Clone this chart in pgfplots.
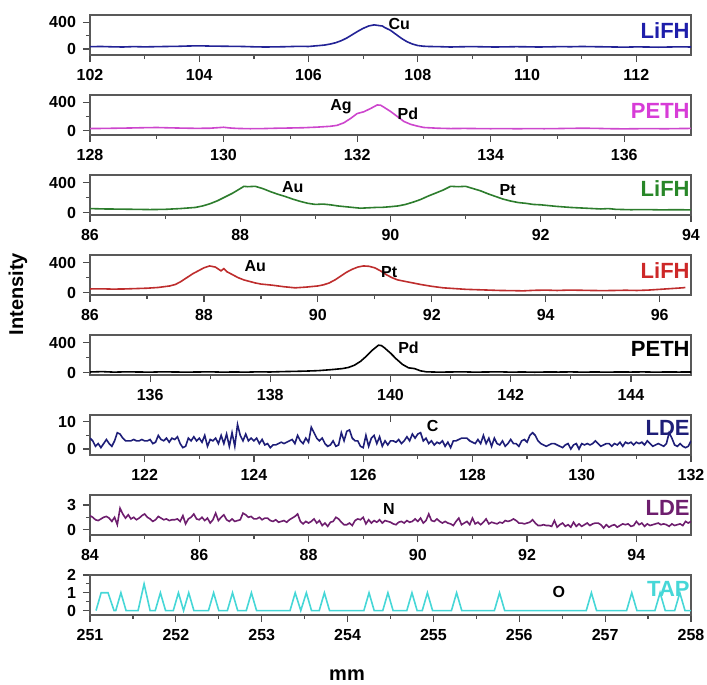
\documentclass[border=0pt]{standalone}
\usepackage{fontspec}
\setmainfont{Liberation Sans}
\usepackage{pgfplots}
\pgfplotsset{compat=1.18}

\definecolor{cBlue}{RGB}{35,35,150}
\definecolor{cMag}{RGB}{205,70,205}
\definecolor{cGreen}{RGB}{45,125,45}
\definecolor{cRed}{RGB}{190,45,45}
\definecolor{cNavy}{RGB}{30,30,120}
\definecolor{cPurple}{RGB}{110,30,110}
\definecolor{cCyan}{RGB}{70,215,215}
\definecolor{lBlue}{RGB}{30,30,170}
\definecolor{lMag}{RGB}{215,60,215}
\definecolor{lGreen}{RGB}{40,135,40}
\definecolor{lRed}{RGB}{205,40,40}

\pgfplotsset{
  panel/.style={
    scale only axis, width=300.5pt, height=20pt, anchor=north west,
    axis line style={black!65, line width=0.6pt},
    tick align=outside, xtick pos=left, ytick pos=left,
    major tick length=3.5pt, minor tick length=2pt,
    every tick/.style={black!70, line width=0.6pt},
    /pgf/number format/assume math mode=true,
    tick label style={font=\bfseries\fontsize{8}{9}\selectfont},
    minor x tick num=1,
  },
}
\tikzset{
  tag/.style={font=\bfseries\fontsize{11}{12}\selectfont, anchor=east, inner sep=0.5pt},
  elem/.style={font=\bfseries\fontsize{8}{9}\selectfont, text=black},
}

\begin{document}
\begin{tikzpicture}
\useasboundingbox (0,0) rectangle (353.5pt,-342.5pt);

% ---- Cu, LiFH
\begin{axis}[panel, at={(45pt,-7.5pt)}, xmin=102, xmax=113,
  xtick={102,104,...,112}, ymin=-90, ymax=510, ytick={0,400}, minor ytick={200}]
\addplot[cBlue, line width=0.8pt] coordinates {
(102.0,35)(102.2,38)(102.4,33)(102.6,30)(102.8,36)(103.0,32)(103.2,35)(103.4,38)
(103.6,40)(103.8,45)(104.0,48)(104.2,44)(104.4,42)(104.6,40)(104.8,38)(105.0,33)
(105.2,30)(105.4,32)(105.6,35)(105.8,40)(106.0,38)(106.1,45)(106.2,52)(106.3,60)
(106.4,75)(106.5,95)(106.6,125)(106.7,165)(106.8,215)(106.9,265)(107.0,310)(107.1,345)
(107.2,362)(107.3,350)(107.35,345)(107.4,320)(107.5,280)(107.6,220)(107.7,160)(107.8,110)
(107.9,75)(108.0,52)(108.1,42)(108.2,38)(108.4,35)(108.6,30)(108.8,34)(109.0,36)
(109.2,33)(109.4,30)(109.6,32)(109.8,35)(110.0,33)(110.2,30)(110.4,32)(110.6,36)
(110.8,34)(111.0,38)(111.2,35)(111.4,33)(111.6,30)(111.8,28)(112.0,32)(112.2,30)
(112.4,27)(112.6,30)(112.8,33)(113.0,30)};
\node[elem] at (axis cs:107.66,370) {Cu};
\node[tag, text=lBlue] at (rel axis cs:1,0.62) {LiFH};
\end{axis}

% ---- Ag Pd, PETH
\begin{axis}[panel, at={(45pt,-47.5pt)}, xmin=128, xmax=137,
  xtick={128,130,...,136}, ymin=-60, ymax=500, ytick={0,400}, minor ytick={200}]
\addplot[cMag, line width=0.8pt] coordinates {
(128.0,30)(128.2,32)(128.4,35)(128.6,38)(128.8,42)(129.0,45)(129.2,40)(129.4,36)
(129.6,33)(129.8,35)(130.0,48)(130.1,38)(130.2,32)(130.4,28)(130.6,30)(130.8,35)
(131.0,38)(131.2,42)(131.4,50)(131.6,62)(131.7,75)(131.8,110)(131.9,170)(132.0,240)
(132.1,265)(132.2,310)(132.3,360)(132.35,358)(132.4,330)(132.5,270)(132.6,200)(132.7,130)
(132.8,90)(132.9,65)(133.0,45)(133.2,35)(133.4,30)(133.6,32)(133.8,30)(134.0,28)
(134.2,30)(134.4,27)(134.6,30)(134.8,28)(135.0,30)(135.2,33)(135.4,35)(135.6,32)
(135.8,28)(136.0,26)(136.2,28)(136.4,30)(136.6,27)(136.8,30)(137.0,32)};
\node[elem] at (axis cs:131.76,340) {Ag};
\node[elem] at (axis cs:132.76,240) {Pd};
\node[tag, text=lMag] at (rel axis cs:1,0.61) {PETH};
\end{axis}

% ---- Au Pt, LiFH (green)
\begin{axis}[panel, at={(45pt,-87.5pt)}, xmin=86, xmax=94,
  xtick={86,88,...,94}, ymin=-30, ymax=500, ytick={0,400}, minor ytick={200}]
\addplot[cGreen, line width=0.8pt] coordinates {
(86.0,55)(86.2,50)(86.4,48)(86.6,45)(86.8,42)(87.0,45)(87.2,55)(87.4,70)
(87.5,90)(87.6,120)(87.7,160)(87.8,210)(87.9,260)(88.0,320)(88.05,350)(88.1,345)
(88.2,350)(88.3,320)(88.4,280)(88.5,245)(88.6,215)(88.7,180)(88.8,150)(88.9,125)
(89.0,110)(89.1,115)(89.2,105)(89.3,90)(89.4,80)(89.5,70)(89.6,60)(89.7,65)
(89.8,70)(89.9,72)(90.0,80)(90.1,90)(90.2,110)(90.3,140)(90.4,175)(90.5,220)
(90.6,260)(90.7,300)(90.8,350)(90.9,345)(91.0,350)(91.1,320)(91.2,290)(91.3,250)
(91.4,215)(91.5,180)(91.6,155)(91.7,135)(91.8,125)(91.9,110)(92.0,105)(92.2,85)
(92.4,70)(92.6,60)(92.8,50)(92.9,55)(93.0,45)(93.2,40)(93.4,42)(93.6,38)
(93.8,40)(94.0,38)};
\node[elem] at (axis cs:88.7,340) {Au};
\node[elem] at (axis cs:91.56,295) {Pt};
\node[tag, text=lGreen] at (rel axis cs:1,0.65) {LiFH};
\end{axis}

% ---- Au Pt, LiFH (red)
\begin{axis}[panel, at={(45pt,-127.5pt)}, xmin=86, xmax=96.55,
  xtick={86,88,...,96}, ymin=-30, ymax=500, ytick={0,400}, minor ytick={200}]
\addplot[cRed, line width=0.8pt] coordinates {
(86.0,50)(86.2,52)(86.4,48)(86.6,50)(86.8,55)(87.0,60)(87.2,70)(87.4,90)
(87.5,110)(87.6,150)(87.7,200)(87.8,250)(87.9,290)(88.0,330)(88.1,355)(88.2,340)
(88.3,290)(88.35,320)(88.4,280)(88.5,240)(88.6,200)(88.7,170)(88.8,150)(88.9,130)
(89.0,115)(89.2,100)(89.4,80)(89.6,65)(89.8,75)(90.0,90)(90.1,105)(90.2,130)
(90.3,170)(90.4,220)(90.5,270)(90.6,310)(90.7,340)(90.8,355)(90.9,350)(91.0,330)
(91.1,290)(91.2,240)(91.3,200)(91.4,170)(91.6,140)(91.8,110)(92.0,85)(92.2,65)
(92.4,55)(92.6,45)(92.8,40)(93.0,35)(93.2,30)(93.4,28)(93.6,25)(93.8,32)
(94.0,35)(94.2,30)(94.4,35)(94.6,33)(94.8,30)(95.0,28)(95.2,30)(95.4,33)
(95.6,30)(95.8,35)(96.0,45)(96.2,55)(96.4,65)(96.45,70)};
\node[elem] at (axis cs:88.9,355) {Au};
\node[elem] at (axis cs:91.25,280) {Pt};
\node[tag, text=lRed] at (rel axis cs:1,0.6) {LiFH};
\end{axis}

% ---- Pd, PETH (black)
\begin{axis}[panel, at={(45pt,-167.5pt)}, xmin=135, xmax=145,
  xtick={136,138,...,144}, ymin=-30, ymax=500, ytick={0,400}, minor ytick={200}]
\addplot[black, line width=0.8pt] coordinates {
(135.0,10)(135.2,15)(135.4,8)(135.6,12)(135.8,10)(136.0,8)(136.2,12)(136.4,10)
(136.6,8)(136.8,10)(137.0,12)(137.2,8)(137.4,10)(137.6,8)(137.8,12)(138.0,10)
(138.2,15)(138.4,18)(138.6,22)(138.8,28)(139.0,40)(139.2,55)(139.3,70)(139.4,100)
(139.5,150)(139.6,220)(139.7,300)(139.8,365)(139.85,360)(139.9,330)(140.0,260)(140.1,180)
(140.2,110)(140.3,65)(140.4,55)(140.5,25)(140.6,12)(140.8,8)(141.0,10)(141.2,12)
(141.4,8)(141.6,10)(141.8,12)(142.0,8)(142.2,10)(142.4,7)(142.6,10)(142.8,9)
(143.0,11)(143.2,8)(143.4,10)(143.6,8)(143.8,10)(144.0,9)(144.2,11)(144.4,8)
(144.6,10)(144.8,9)(145.0,10)};
\node[elem] at (axis cs:140.3,330) {Pd};
\node[tag, text=black] at (rel axis cs:1,0.66) {PETH};
\end{axis}

% ---- C, LDE
\begin{axis}[panel, at={(45pt,-207.5pt)}, xmin=121, xmax=132,
  xtick={122,124,...,132}, ymin=-2.2, ymax=12.5, ytick={0,10}, minor ytick={5}]
\addplot[cNavy, line width=0.8pt] coordinates {
(121.00,4)(121.05,3)(121.10,1)(121.15,2)(121.20,0.5)(121.25,2)(121.30,3.5)(121.35,2)
(121.40,1)(121.45,3)(121.50,6)(121.55,5.5)(121.60,4)(121.65,3)(121.70,3)(121.75,3)
(121.80,3.5)(121.85,3)(121.90,3)(121.95,3.5)(122.00,3)(122.05,3)(122.10,3.5)(122.15,2)
(122.20,2.5)(122.25,5)(122.30,3.5)(122.35,3)(122.40,4)(122.45,2.5)(122.50,4)(122.55,3.5)
(122.60,4.5)(122.65,2)(122.70,0.5)(122.75,1)(122.80,4)(122.85,3)(122.90,4.5)(122.95,3)
(123.00,4)(123.05,2.5)(123.10,5)(123.15,1)(123.20,3.5)(123.25,3)(123.30,4)(123.35,2)
(123.40,5)(123.45,2)(123.50,5.5)(123.55,1)(123.60,6)(123.65,1)(123.70,9)(123.75,5)
(123.80,3)(123.85,5.5)(123.90,3)(123.95,4)(124.00,3)(124.05,4)(124.10,2)(124.15,3.5)
(124.20,1.5)(124.25,2)(124.30,0.5)(124.35,1.5)(124.40,1.5)(124.45,2)(124.50,2.5)(124.55,2)
(124.60,2.5)(124.65,3)(124.70,3.5)(124.75,2)(124.80,5)(124.85,3)(124.90,2)(124.95,4)
(125.00,2.5)(125.05,8)(125.10,6)(125.15,4)(125.20,3)(125.25,4)(125.30,2)(125.35,1)
(125.40,1.5)(125.45,3)(125.50,1)(125.55,1.5)(125.60,6)(125.65,3)(125.70,6.5)(125.75,7)
(125.80,4)(125.85,3)(125.90,3)(125.95,1)(126.00,0.5)(126.05,5)(126.10,1)(126.15,4)
(126.20,5)(126.25,2)(126.30,4.5)(126.35,1)(126.40,3)(126.45,1.5)(126.50,3)(126.55,3)
(126.60,2.5)(126.65,3.5)(126.70,2)(126.75,3)(126.80,4.5)(126.85,3)(126.90,5.5)(126.95,4)
(127.00,5.5)(127.05,6)(127.10,3)(127.15,4)(127.20,2)(127.25,3)(127.30,1.5)(127.35,2.5)
(127.40,2)(127.45,3)(127.50,1)(127.55,2.5)(127.60,0.5)(127.65,3)(127.70,3)(127.75,3.5)
(127.80,4)(127.85,4)(127.90,4)(127.95,3)(128.00,2.5)(128.05,2)(128.10,3.5)(128.15,2)
(128.20,5)(128.25,2)(128.30,4)(128.35,1)(128.40,4)(128.45,2)(128.50,1.5)(128.55,3)
(128.60,1)(128.65,2)(128.70,3.5)(128.75,2)(128.80,2)(128.85,1)(128.90,3)(128.95,3.5)
(129.00,2.5)(129.05,5)(129.10,6)(129.15,5)(129.20,3)(129.25,2)(129.30,1.5)(129.35,1)
(129.40,1.5)(129.45,2)(129.50,2)(129.55,1.5)(129.60,1)(129.65,0.5)(129.70,1.5)(129.75,2)
(129.80,0)(129.85,1.5)(129.90,2)(129.95,0)(130.00,2)(130.05,1.5)(130.10,2)(130.15,1.5)
(130.20,2)(130.25,3)(130.30,2)(130.35,1)(130.40,1.5)(130.45,2)(130.50,2)(130.55,1)
(130.60,2)(130.65,1.5)(130.70,2.5)(130.75,1)(130.80,2.5)(130.85,2)(130.90,2.5)(130.95,1.5)
(131.00,2.5)(131.05,2)(131.10,2.5)(131.15,1.5)(131.20,3)(131.25,2)(131.30,1)(131.35,1.5)
(131.40,2)(131.45,1.5)(131.50,1)(131.55,2)(131.60,6)(131.65,4)(131.70,1.5)(131.75,1)
(131.80,2)(131.85,1)(131.90,0.5)(131.95,1)(132.00,3)};
\draw[black!70, line width=0.6pt] (axis cs:126.5,12.5) -- (axis cs:126.5,9.8);
\node[elem] at (axis cs:127.27,8.4) {C};
\node[tag, text=cNavy] at (rel axis cs:1,0.67) {LDE};
\end{axis}

% ---- N, LDE
\begin{axis}[panel, at={(45pt,-247.5pt)}, xmin=84, xmax=95,
  xtick={84,86,...,94}, ymin=-0.65, ymax=4.2, ytick={0,3}, minor ytick={1.5}]
\addplot[cPurple, line width=0.8pt] coordinates {
(84.00,1.7)(84.05,1.5)(84.10,1.2)(84.15,1.1)(84.20,1.3)(84.25,1.5)(84.30,1.6)(84.35,1.4)
(84.40,1.0)(84.45,1.5)(84.50,0.6)(84.55,2.6)(84.60,1.9)(84.65,1.4)(84.70,1.8)(84.75,1.3)
(84.80,1.5)(84.85,1.2)(84.90,1.4)(84.95,1.7)(85.00,1.9)(85.05,1.5)(85.10,1.3)(85.15,1.0)
(85.20,1.2)(85.25,1.6)(85.30,1.4)(85.35,1.2)(85.40,1.3)(85.45,1.1)(85.50,1.2)(85.55,1.2)
(85.60,1.3)(85.65,1.0)(85.70,1.7)(85.75,0.7)(85.80,1.3)(85.85,1.5)(85.90,1.9)(85.95,1.3)
(86.00,1.2)(86.05,1.5)(86.10,1.1)(86.15,1.4)(86.20,0.8)(86.25,1.2)(86.30,2.0)(86.35,1.1)
(86.40,1.5)(86.45,1.8)(86.50,1.2)(86.55,1.0)(86.60,1.3)(86.65,1.0)(86.70,1.1)(86.75,1.2)
(86.80,2.0)(86.85,1.8)(86.90,1.5)(86.95,1.6)(87.00,1.3)(87.05,1.3)(87.10,1.5)(87.15,1.2)
(87.20,1.4)(87.25,1.4)(87.30,1.1)(87.35,1.0)(87.40,1.2)(87.45,0.9)(87.50,1.0)(87.55,1.1)
(87.60,0.9)(87.65,1.2)(87.70,1.4)(87.75,1.6)(87.80,1.9)(87.85,1.0)(87.90,0.7)(87.95,1.0)
(88.00,0.8)(88.05,1.0)(88.10,1.3)(88.15,0.8)(88.20,1.1)(88.25,0.5)(88.30,0.8)(88.35,0.4)
(88.40,0.9)(88.45,1.0)(88.50,1.5)(88.55,1.3)(88.60,0.9)(88.65,0.6)(88.70,0.6)(88.75,0.8)
(88.80,0.5)(88.85,1.1)(88.90,1.3)(88.95,1.2)(89.00,1.5)(89.05,0.7)(89.10,1.2)(89.15,0.8)
(89.20,1.1)(89.25,0.9)(89.30,1.2)(89.35,0.8)(89.40,1.1)(89.45,1.0)(89.50,0.9)(89.55,0.7)
(89.60,0.6)(89.65,0.9)(89.70,1.0)(89.75,0.8)(89.80,1.1)(89.85,0.9)(89.90,1.0)(89.95,1.3)
(90.00,1.0)(90.05,1.4)(90.10,0.8)(90.15,1.1)(90.20,1.9)(90.25,1.1)(90.30,1.0)(90.35,1.3)
(90.40,1.0)(90.45,0.8)(90.50,1.0)(90.55,0.8)(90.60,0.7)(90.65,0.5)(90.70,1.0)(90.75,1.4)
(90.80,0.6)(90.85,0.8)(90.90,1.0)(90.95,0.6)(91.00,1.4)(91.05,0.7)(91.10,0.9)(91.15,0.6)
(91.20,0.9)(91.25,1.3)(91.30,0.7)(91.35,0.9)(91.40,0.8)(91.45,0.7)(91.50,0.9)(91.55,0.8)
(91.60,1.1)(91.65,1.0)(91.70,1.1)(91.75,1.3)(91.80,1.1)(91.85,0.8)(91.90,0.8)(91.95,0.7)
(92.00,0.8)(92.05,0.9)(92.10,1.2)(92.15,0.8)(92.20,0.5)(92.25,0.5)(92.30,0.6)(92.35,0.5)
(92.40,0.5)(92.45,0.4)(92.50,1.1)(92.55,0.3)(92.60,0.6)(92.65,0.8)(92.70,0.4)(92.75,0.6)
(92.80,0.3)(92.85,0.9)(92.90,0.4)(92.95,0.7)(93.00,0.4)(93.05,0.6)(93.10,0.8)(93.15,0.5)
(93.20,0.7)(93.25,0.8)(93.30,0.8)(93.35,0.6)(93.40,0.2)(93.45,0.6)(93.50,0.3)(93.55,0.5)
(93.60,0.6)(93.65,0.3)(93.70,0.5)(93.75,0.7)(93.80,0.6)(93.85,0.7)(93.90,0.4)(93.95,0.5)
(94.00,1.0)(94.05,0.6)(94.10,0.8)(94.15,0.4)(94.20,0.7)(94.25,0.5)(94.30,0.6)(94.35,0.7)
(94.40,0.8)(94.45,0.6)(94.50,0.7)(94.55,0.6)(94.60,0.4)(94.65,0.7)(94.70,0.5)(94.75,0.6)
(94.80,0.7)(94.85,0.5)(94.90,1.0)(94.95,0.8)(95.00,1.0)};
\node[elem] at (axis cs:89.47,2.5) {N};
\node[tag, text=cPurple] at (rel axis cs:1,0.67) {LDE};
\end{axis}

% ---- O, TAP
\begin{axis}[panel, at={(45pt,-287.5pt)}, xmin=251, xmax=258,
  xtick={251,...,258}, ymin=-0.25, ymax=2, ytick={0,1,2}, minor ytick={0.5,1.5}]
\addplot[cCyan, line width=0.8pt] coordinates {
(251.07,0)(251.13,1)(251.21,1)(251.28,0)(251.30,0)(251.36,1)(251.42,0)(251.56,0)
(251.63,1.5)(251.70,0)(251.76,0)(251.82,1)(251.88,0)(251.97,0)(252.03,1)(252.09,0)
(252.15,1)(252.21,0)(252.38,0)(252.44,1)(252.50,0)(252.60,0)(252.66,1)(252.72,0)
(252.82,0)(252.88,1)(252.94,0)(253.33,0)(253.39,1)(253.455,0)(253.52,1)(253.58,0)
(253.67,0)(253.73,1)(253.79,0)(254.19,0)(254.25,1)(254.31,0)(254.41,0)(254.47,1)
(254.53,0)(254.69,0)(254.75,1)(254.81,0)(254.87,0)(254.93,1)(254.99,0)(255.21,0)
(255.27,1)(255.33,0)(255.71,0)(255.77,1)(255.83,0)(256.78,0)(256.84,1)(256.90,0)
(257.25,0)(257.31,1)(257.37,0)(257.58,0)(257.64,1)(257.70,0)(257.81,0)(257.87,1)
(257.93,0)(258.00,0)};
\node[elem] at (axis cs:256.46,1.05) {O};
\node[tag, text=cCyan] at (rel axis cs:1,0.64) {TAP};
\end{axis}

\node[rotate=90, font=\bfseries\fontsize{10}{12}\selectfont] at (9pt,-147pt) {Intensity};
\node[font=\bfseries\fontsize{10}{12}\selectfont] at (173.5pt,-337.5pt) {mm};
\end{tikzpicture}
\end{document}
